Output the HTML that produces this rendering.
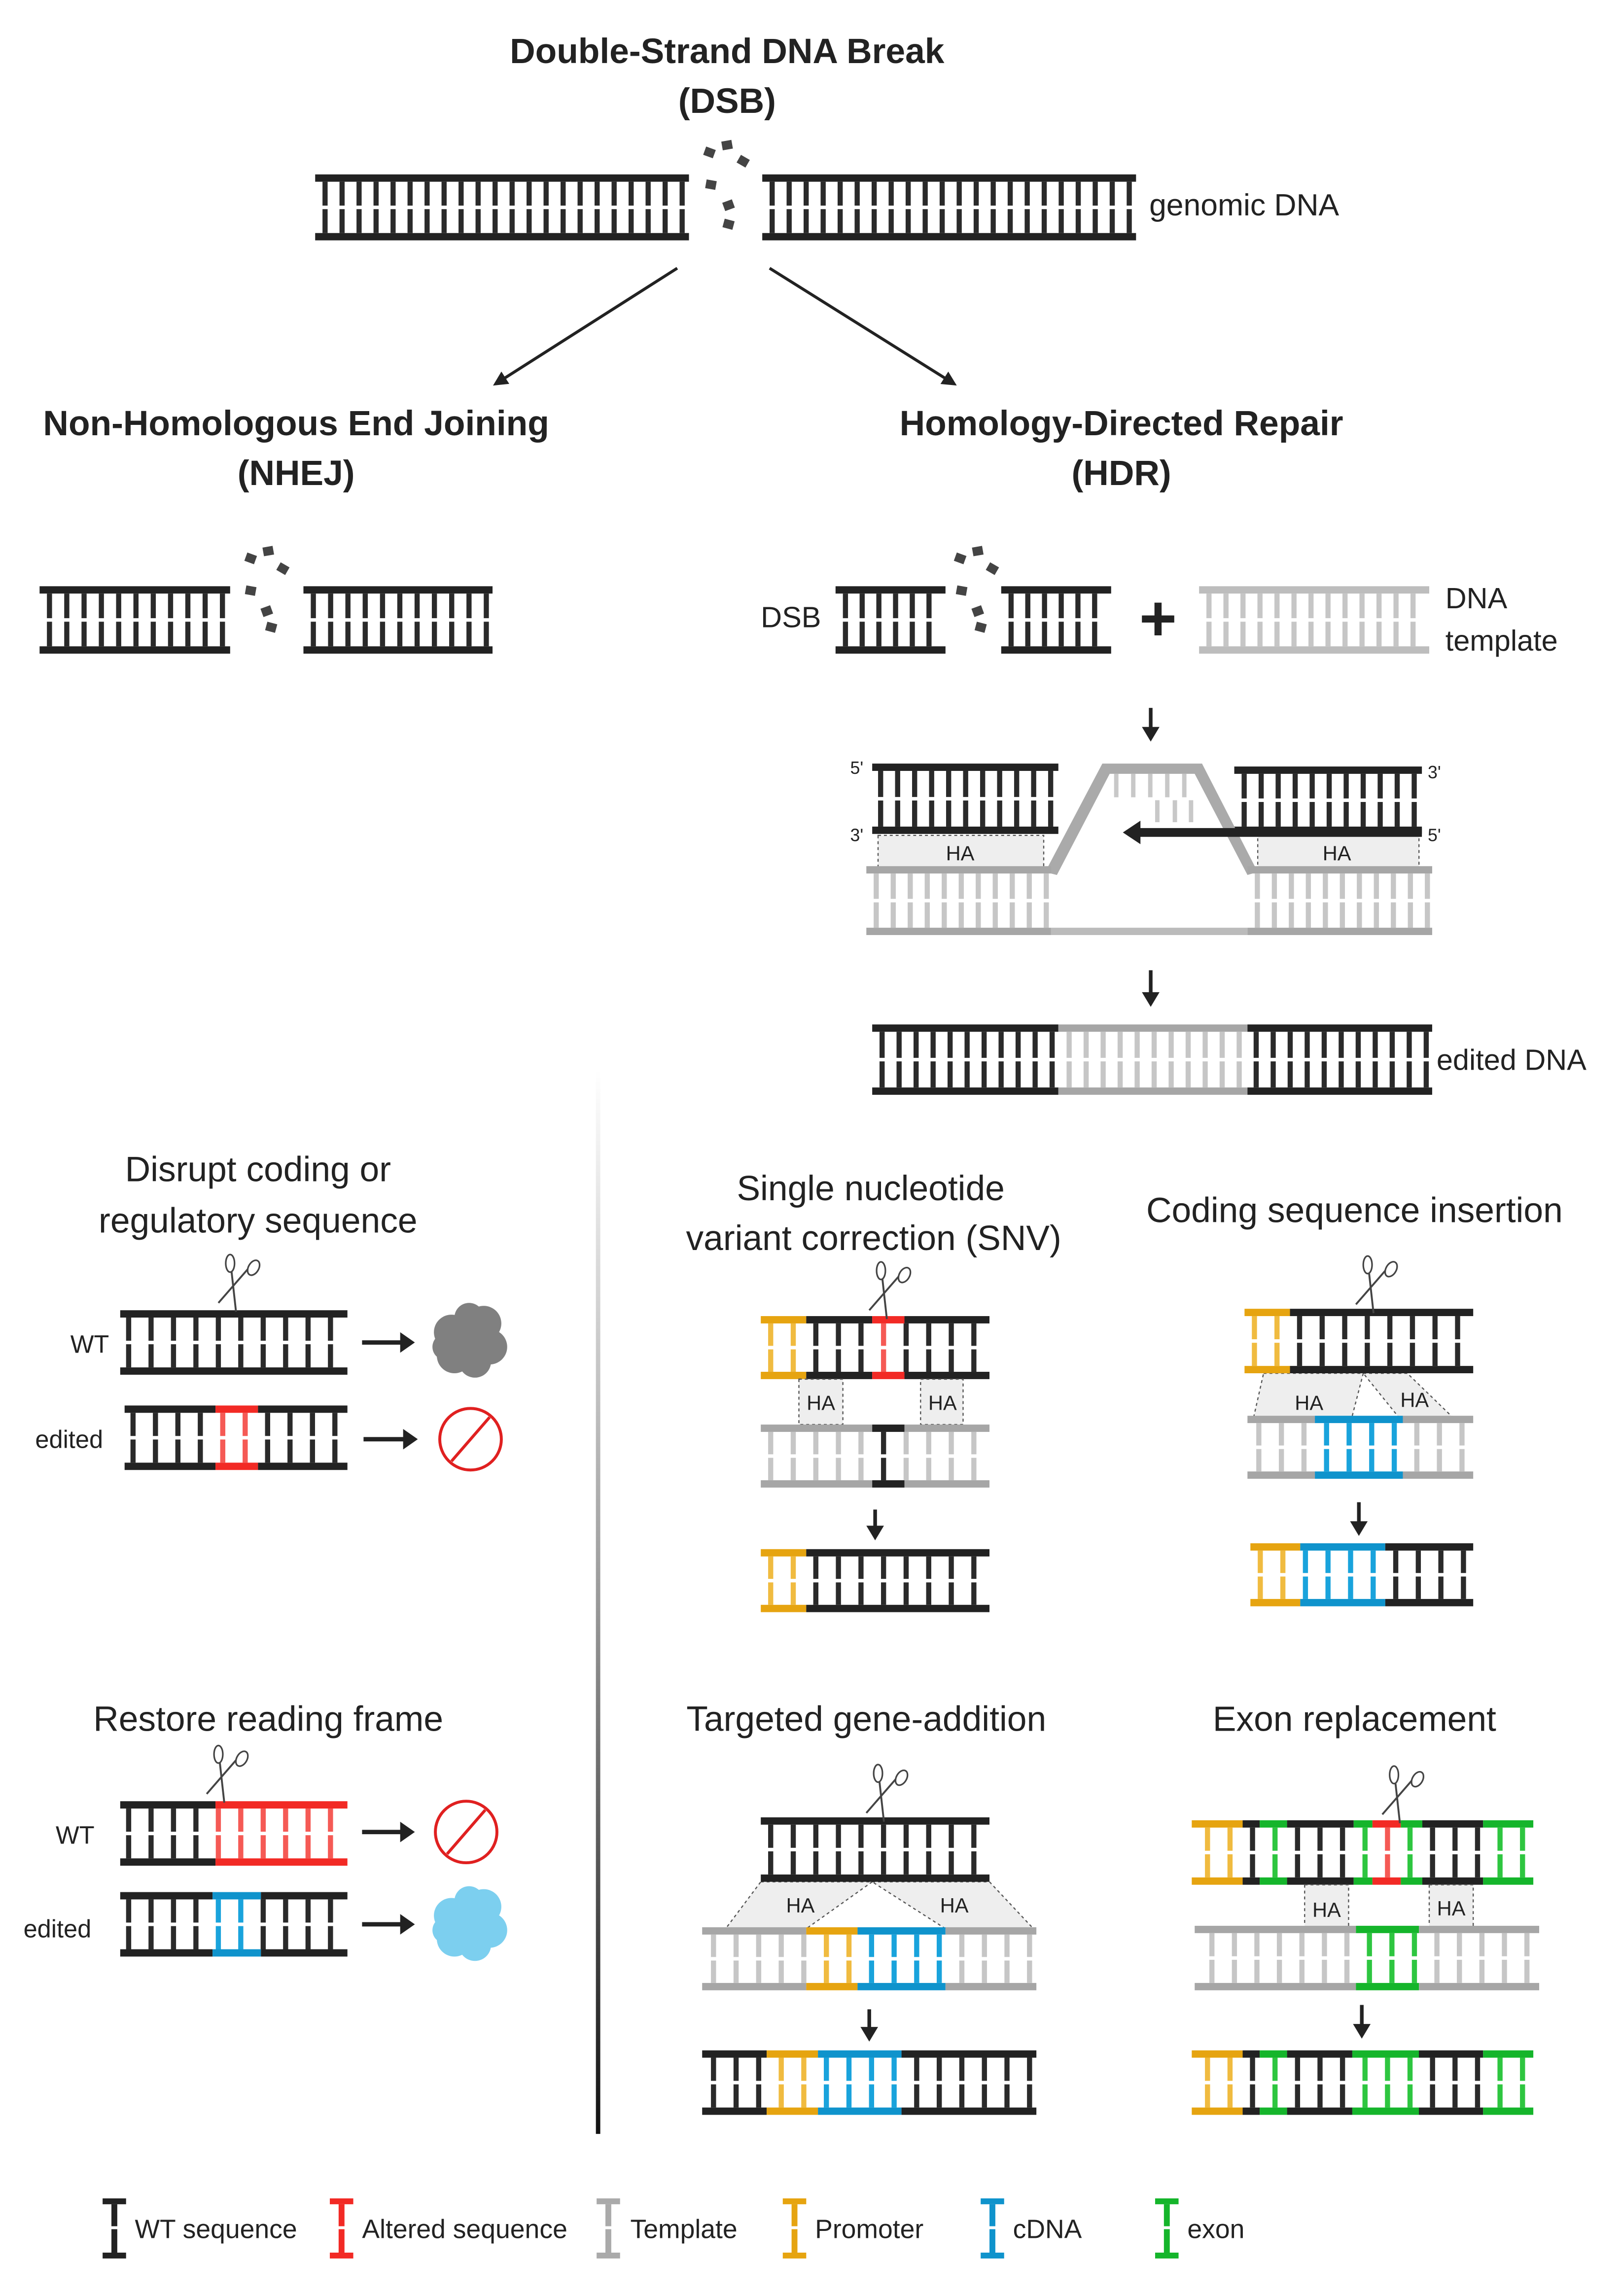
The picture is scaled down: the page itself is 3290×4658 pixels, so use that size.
<!DOCTYPE html>
<html><head><meta charset="utf-8">
<style>
html,body{margin:0;padding:0;background:#fff;}
svg{display:block;}
text{font-family:"Liberation Sans",sans-serif;fill:#222;}
.b{font-weight:bold;}
</style></head>
<body>
<svg id="s" xmlns="http://www.w3.org/2000/svg" width="3290" height="4658" viewBox="0 0 1106.5 1566.6">
<defs>
<linearGradient id="vg" x1="0" y1="0" x2="0" y2="1">
<stop offset="0" stop-color="#fff"/><stop offset="0.5" stop-color="#999"/><stop offset="1" stop-color="#111"/>
</linearGradient>
<marker id="ah" viewBox="0 0 10 10" refX="8" refY="5" markerWidth="5" markerHeight="5" orient="auto"><path d="M0,0 L10,5 L0,10 z" fill="#222"/></marker>
</defs>
<g id="g"></g>

<text x="496" y="43" font-size="24" text-anchor="middle" class="b">Double-Strand DNA Break</text>
<text x="496" y="77" font-size="24" text-anchor="middle" class="b">(DSB)</text>
<text x="784" y="147" font-size="21">genomic DNA</text>
<text x="202" y="297" font-size="24" text-anchor="middle" class="b">Non-Homologous End Joining</text>
<text x="202" y="331" font-size="24" text-anchor="middle" class="b">(NHEJ)</text>
<text x="765" y="297" font-size="24" text-anchor="middle" class="b">Homology-Directed Repair</text>
<text x="765" y="331" font-size="24" text-anchor="middle" class="b">(HDR)</text>
<text x="519" y="428" font-size="20">DSB</text>
<text x="790" y="437" font-size="44" text-anchor="middle" class="b">+</text>
<text x="986" y="415" font-size="20">DNA</text>
<text x="986" y="444" font-size="20">template</text>
<text x="580" y="528" font-size="12">5'</text>
<text x="580" y="574" font-size="12">3'</text>
<text x="974" y="531" font-size="12">3'</text>
<text x="974" y="574" font-size="12">5'</text>
<text x="980" y="730" font-size="20">edited DNA</text>

<text x="176" y="806" font-size="24" text-anchor="middle">Disrupt coding or</text>
<text x="176" y="841" font-size="24" text-anchor="middle">regulatory sequence</text>
<text x="48" y="923" font-size="17">WT</text>
<text x="24" y="988" font-size="17">edited</text>
<text x="183" y="1181" font-size="24" text-anchor="middle">Restore reading frame</text>
<text x="38" y="1258" font-size="17">WT</text>
<text x="16" y="1322" font-size="17">edited</text>

<text x="594" y="819" font-size="24" text-anchor="middle">Single nucleotide</text>
<text x="596" y="853" font-size="24" text-anchor="middle">variant correction (SNV)</text>
<text x="924" y="834" font-size="24" text-anchor="middle">Coding sequence insertion</text>
<text x="591" y="1181" font-size="24" text-anchor="middle">Targeted gene-addition</text>
<text x="924" y="1181" font-size="24" text-anchor="middle">Exon replacement</text>

<text x="92" y="1527" font-size="18">WT sequence</text>
<text x="247" y="1527" font-size="18">Altered sequence</text>
<text x="430" y="1527" font-size="18">Template</text>
<text x="556" y="1527" font-size="18">Promoter</text>
<text x="691" y="1527" font-size="18">cDNA</text>
<text x="810" y="1527" font-size="18">exon</text>

<rect x="406.5" y="730" width="3" height="726" fill="url(#vg)"/>
</svg>
<script>
var NS="http://www.w3.org/2000/svg",G=document.getElementById("g");
function el(t,a){var e=document.createElementNS(NS,t);for(var k in a)e.setAttribute(k,a[k]);G.appendChild(e);return e;}
var C={k:["#222","#2a2a2a"],r:["#f22a25","#f55a55"],g:["#a6a6a6","#c6c6c6"],y:["#e6a410","#f0bb40"],b:["#0f93cc","#19a3dc"],n:["#15b52b","#2ec640"],lg:["#bdbdbd","#c6c6c6"]};
function lad(x0,x1,y0,y1,segs,sp,off){
  segs=segs||[[x0,x1,"k"]];sp=sp||11.6;off=off||5;
  var bt=5, ym=(y0+y1)/2;
  segs.forEach(function(s){var c=C[s[2]][0];
    el("rect",{x:s[0],y:y0,width:s[1]-s[0],height:bt,fill:c});
    el("rect",{x:s[0],y:y1-bt,width:s[1]-s[0],height:bt,fill:c});});
  for(var x=x0+off;x<=x1-3;x+=sp){
    var c="#222";segs.forEach(function(s){if(x+1.75>=s[0]&&x+1.75<s[1])c=C[s[2]][1];});
    el("rect",{x:x,y:y0+bt,width:3.5,height:ym-1.2-(y0+bt),fill:c});
    el("rect",{x:x,y:ym+1.2,width:3.5,height:y1-bt-ym-1.2,fill:c});
  }
}
function frag(pts){pts.forEach(function(p){el("rect",{x:p[0]-3.5,y:p[1]-3,width:7,height:6,fill:"#444",transform:"rotate("+p[2]+" "+p[0]+" "+p[1]+")"});});}
function arrow(x1,y1,x2,y2,w){el("line",{x1:x1,y1:y1,x2:x2,y2:y2,stroke:"#222","stroke-width":w||2,"marker-end":"url(#ah)"});}
function down(x,y1,y2){el("line",{x1:x,y1:y1,x2:x,y2:y2-8,stroke:"#222","stroke-width":2.5});el("path",{d:"M"+(x-6)+","+(y2-10)+" L"+(x+6)+","+(y2-10)+" L"+x+","+y2+"z",fill:"#222"});}
function right(x1,x2,y){el("line",{x1:x1,y1:y,x2:x2-8,y2:y,stroke:"#222","stroke-width":3});el("path",{d:"M"+(x2-10)+","+(y-7)+" L"+x2+","+y+" L"+(x2-10)+","+(y+7)+"z",fill:"#222"});}
function sc(x,y){
  el("line",{x1:x-11,y1:y-3,x2:x+9,y2:y-26,stroke:"#444","stroke-width":1.3});
  el("line",{x1:x+1,y1:y+3,x2:x-2,y2:y-24,stroke:"#444","stroke-width":1.3});
  el("ellipse",{cx:x-3,cy:y-30,rx:3,ry:6,fill:"none",stroke:"#444","stroke-width":1.1});
  el("ellipse",{cx:x+13,cy:y-27,rx:3.5,ry:5.5,fill:"none",stroke:"#444","stroke-width":1.1,transform:"rotate(30 "+(x+13)+" "+(y-27)+")"});
}
function ha(pts,lx,ly){el("polygon",{points:pts,fill:"#eeeeee",stroke:"#555","stroke-width":0.8,"stroke-dasharray":"2,2"});
  var t=el("text",{x:lx,y:ly,"font-size":14,"text-anchor":"middle"});t.textContent="HA";}
function blob(cx,cy,c){[[0,0,20],[-12,-6,12],[10,-12,12],[14,4,12],[-10,10,12],[4,14,11],[-16,4,9],[0,-16,10]].forEach(function(p){el("circle",{cx:cx+p[0],cy:cy+p[1],r:p[2],fill:c});});}
function nosign(cx,cy){el("circle",{cx:cx,cy:cy,r:21,fill:"none",stroke:"#e02020","stroke-width":2});el("line",{x1:cx-13,y1:cy+15,x2:cx+13,y2:cy-15,stroke:"#e02020","stroke-width":2});}

lad(215,470,119,164);lad(520,775,119,164,null,11.6,5);
frag([[484,104,20],[496,99,-10],[507,110,30],[485,126,10],[497,140,-20],[497,153,15]]);
arrow(462,183,338,262);arrow(525,183,651,262);
lad(27,157,400,446,null,11.8);lad(207,336,400,446,null,11.8);
frag([[171,381,20],[183,376,-10],[193,388,30],[171,403,10],[182,417,-20],[185,428,15]]);
lad(570,645,400,446,null,11.4);lad(683,758,400,446,null,11.4);
frag([[655,381,20],[667,376,-10],[677,388,30],[656,403,10],[667,417,-20],[669,428,15]]);
el("rect",{x:780,y:420,width:20,height:4,fill:"#222"});
lad(818,975,400,446,[[818,975,"lg"]]);
down(785,483,506);
ha("599,570 712,570 712,592 599,592",655,587);
ha("858,570 968,570 968,592 858,592",912,587);
lad(595,722,521,569,null,11.6,4);
lad(842,970,523,569,null,11.6,5);
el("polygon",{points:"713,595 752,521 820,521 858,595 851,597 815,528 757,528 721,597",fill:"#aaa"});
for(var x=760;x<815;x+=11.6){el("rect",{x:x,y:528,width:3,height:16,fill:"#c8c8c8"});}
[788,800,811].forEach(function(x){el("rect",{x:x,y:546,width:3,height:15,fill:"#c8c8c8"});});
lad(591,717,591,638,[[591,717,"g"]]);
lad(851,977,591,638,[[851,977,"g"]]);
el("rect",{x:717,y:633,width:134,height:5,fill:"#bbb"});
el("rect",{x:775,y:565,width:195,height:6,fill:"#222"});
el("path",{d:"M766,568 L778,560 L778,576z",fill:"#222"});
down(785,662,687);
lad(595,977,699,747,[[595,722,"k"],[722,851,"g"],[851,977,"k"]]);
lad(82,237,894,938,null,15.3,4);sc(160,892);right(247,283,916);blob(320,915,"#808080");
lad(85,237,959,1003,[[85,147,"k"],[147,176,"r"],[176,237,"k"]],15.3,4);right(248,285,982);nosign(321,982);
lad(82,237,1229,1273,[[82,147,"k"],[147,237,"r"]],15.3,4);sc(152,1227);right(247,283,1250);nosign(318,1250);
lad(82,237,1291,1335,[[82,145,"k"],[145,178,"b"],[178,237,"k"]],15.3,4);right(247,283,1313);blob(320,1313,"#7ccfef");
lad(519,675,898,941,[[519,550,"y"],[550,595,"k"],[595,617,"r"],[617,675,"k"]],15.4,5);sc(604,897);
ha("545,941 575,941 575,972 545,972",560,962);ha("628,941 657,941 657,972 628,972",643,962);
lad(519,675,972,1015,[[519,595,"g"],[595,617,"k"],[617,675,"g"]],15.4,5);
down(597,1030,1051);
lad(519,675,1057,1100,[[519,550,"y"],[550,675,"k"]],15.4,5);
ha("862,937 930,937 922,968 855,968",893,962);ha("930,937 960,937 992,968 955,968",965,960);
lad(849,1005,893,937,[[849,880,"y"],[880,1005,"k"]],15.4,5);sc(936,893);
lad(851,1005,966,1009,[[851,897,"g"],[897,957,"b"],[957,1005,"g"]],15.4,6);
down(927,1025,1048);
lad(853,1005,1053,1096,[[853,887,"y"],[887,945,"b"],[945,1005,"k"]],15.4,5);
ha("519,1284 595,1284 550,1316 495,1316",546,1305);ha("595,1284 675,1284 705,1316 645,1316",651,1305);
lad(519,675,1240,1284,null,15.4,5);sc(602,1240);
lad(479,707,1315,1358,[[479,550,"g"],[550,585,"y"],[585,645,"b"],[645,707,"g"]],15.4,6);
down(593,1371,1393);
lad(479,707,1399,1443,[[479,523,"k"],[523,558,"y"],[558,615,"b"],[615,707,"k"]],15.4,6);
function erS(a,b){var w=b-a,f=[[0,.149,"y"],[.149,.199,"k"],[.199,.279,"n"],[.279,.474,"k"],[.474,.529,"n"],[.529,.612,"r"],[.612,.675,"n"],[.675,.853,"k"],[.853,1,"n"]];return f.map(function(s){return[a+s[0]*w,a+s[1]*w,s[2]];});}
lad(813,1046,1242,1286,erS(813,1046),15.35,9);sc(954,1241);
ha("890,1286 920,1286 920,1315 890,1315",905,1308);ha("975,1286 1005,1286 1005,1315 975,1315",990,1307);
lad(815,1050,1314,1358,[[815,925,"g"],[925,968,"n"],[968,1050,"g"]],15.35,10);
down(929,1368,1391);
(function(){var a=813,b=1046,w=b-a,f=[[0,.149,"y"],[.149,.199,"k"],[.199,.279,"n"],[.279,.47,"k"],[.47,.665,"n"],[.665,.853,"k"],[.853,1,"n"]];lad(a,b,1399,1443,f.map(function(s){return[a+s[0]*w,a+s[1]*w,s[2]];}),15.35,9);})();
function leg(x,c){el("rect",{x:x-7,y:1500,width:16,height:4,fill:c});el("rect",{x:x-7,y:1537,width:16,height:4,fill:c});el("rect",{x:x-1,y:1504,width:4,height:15,fill:c});el("rect",{x:x-1,y:1521,width:4,height:16,fill:c});}
leg(77,"#222");leg(232,"#f22a25");leg(414,"#aaa");leg(541,"#e6a410");leg(676,"#0f93cc");leg(795,"#15b52b");
</script>
</body></html>
